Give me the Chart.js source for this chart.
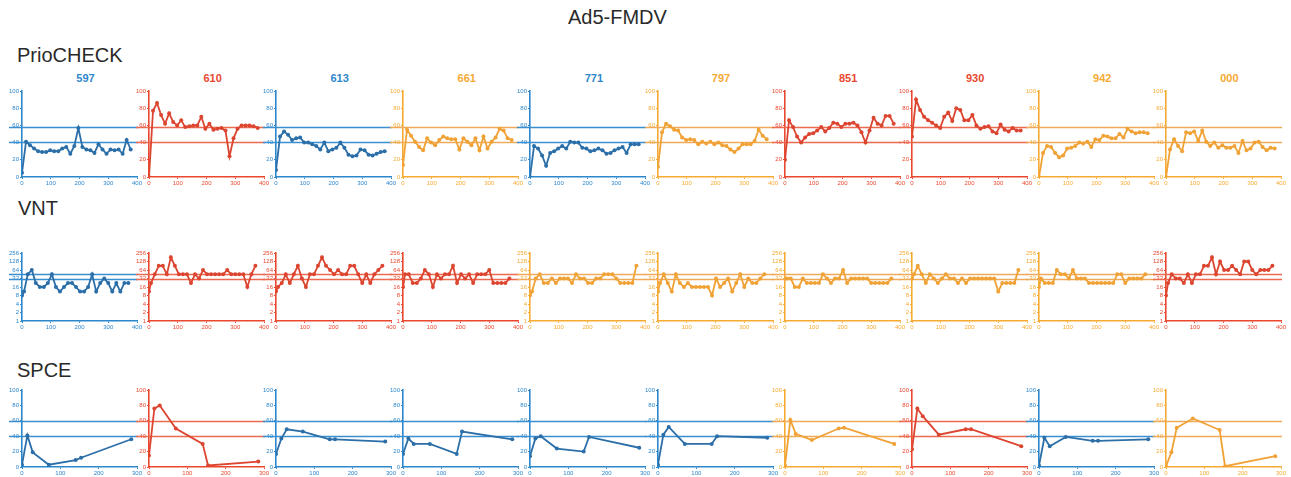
<!DOCTYPE html>
<html>
<head>
<meta charset="utf-8">
<script src="https://cdn.jsdelivr.net/npm/chart.js@4.4.1/dist/chart.umd.min.js"></script>
<style>
body{margin:0;width:1291px;height:477px;overflow:hidden;background:#fff;font-family:"Liberation Sans",Arial,sans-serif;position:relative}
canvas{position:absolute}
.lbl{position:absolute;color:#2a2a2a;font-size:20px;line-height:20px;white-space:nowrap}
.ttl{position:absolute;font-size:11px;line-height:11px;font-weight:bold;width:127px;text-align:center}
</style>
</head>
<body>
<div class="lbl" style="left:568px;top:7px">Ad5-FMDV</div>
<div class="lbl" style="left:17px;top:45px">PrioCHECK</div>
<div class="lbl" style="left:18px;top:198px">VNT</div>
<div class="lbl" style="left:17px;top:360px">SPCE</div>
<div id="wrap"></div>
<script>
const animals=["597","610","613","661","771","797","851","930","942","000"]

// days post vaccination
const prioDays=[0,14,28,42,56,70,84,98,112,126,140,154,168,182,196,210,224,238,252,266,280,294,308,322,336,350,364,378]
const vntDays=[0,7,20,34,48,62,76,90,104,118,132,146,160,174,188,202,216,230,244,258,272,286,300,314,328,342,356,370]
const spceDays=[0,14,28,70,140,154,285]

// PrioCHECK (% inhibition)
const prio597=[5,41,37,33,30,29,29,31,30,30,33,35,27,36,57,35,32,31,28,38,32,27,32,31,32,27,43,32]
const prio610=[0,77,86,72,62,74,64,60,66,58,59,60,60,70,56,62,55,56,57,54,24,45,56,60,60,60,59,57]
const prio613=[8,47,53,49,43,45,46,40,40,38,36,32,40,30,32,34,40,34,26,24,25,32,31,26,25,27,29,30]
const prio661=[14,55,48,41,35,31,45,40,37,43,47,45,44,44,32,45,41,37,45,31,47,33,41,46,56,54,45,43]
const prio771=[0,36,33,25,13,28,30,33,36,33,41,40,40,34,33,30,31,33,31,27,28,31,33,35,28,38,38,38]
const prio797=[12,52,62,59,55,54,46,43,44,43,38,41,39,41,38,40,37,36,32,29,33,38,38,38,42,55,48,44]
const prio851=[20,66,58,47,40,46,50,51,54,58,53,57,63,62,58,62,62,63,60,52,40,54,69,62,60,71,71,62]
const prio930=[47,90,78,70,66,63,60,57,70,75,65,80,78,66,66,72,60,56,58,59,53,51,61,55,53,57,54,54]
const prio942=[0,28,36,35,28,23,25,33,34,36,40,39,41,35,44,43,48,47,45,45,50,46,56,53,51,52,52,51]
const prio000=[0,32,44,36,30,52,51,53,42,54,41,36,40,34,37,34,34,36,28,42,31,33,40,41,35,31,34,33]

// VNT titres
const vnt597=[8,11,45,64,22,16,16,22,45,16,11,16,22,22,16,11,11,16,45,11,22,32,22,11,22,11,22,22]
const vnt610=[11,22,45,90,90,45,181,90,45,45,45,22,45,32,64,45,45,45,45,45,64,45,45,45,45,16,45,90]
const vnt613=[11,16,22,45,22,45,90,32,16,45,45,90,180,90,64,45,64,45,45,90,90,45,22,45,22,45,64,90]
const vnt661=[16,45,45,22,22,32,64,45,16,45,32,45,45,90,22,45,32,45,22,45,45,45,64,22,22,22,22,32]
const vnt771=[8,11,32,45,22,22,32,22,32,32,32,22,45,32,32,22,22,32,32,45,45,45,32,22,22,22,22,90]
const vnt797=[11,22,45,22,11,45,22,16,22,16,16,16,16,16,8,32,16,22,32,11,22,45,16,32,22,22,32,45]
const vnt851=[32,32,32,16,16,32,22,22,22,22,45,32,22,32,32,64,22,32,32,32,32,32,22,22,22,22,22,32]
const vnt930=[32,45,90,45,22,45,32,22,32,45,32,32,22,32,22,32,32,32,32,32,32,32,11,22,22,22,22,64]
const vnt942=[16,32,22,22,22,64,45,45,32,64,32,32,32,22,22,22,22,22,22,22,45,45,22,32,32,32,32,45]
const vnt000=[8,22,45,32,32,22,45,22,45,45,90,90,180,45,128,64,64,90,64,45,128,128,64,45,64,64,64,90]

// SPCE (% inhibition)
const spce597=[3,41,19,3,9,12,36]
const spce610=[15,76,80,50,30,2,7]
const spce613=[17,37,49,46,36,36,33]
const spce661=[17,37,30,30,17,46,36]
const spce771=[14,37,40,24,20,39,25]
const spce797=[3,42,52,30,30,40,38]
const spce851=[2,61,43,35,50,51,30]
const spce930=[23,76,66,42,49,49,27]
const spce942=[2,38,27,39,34,34,36]
const spce000=[1,19,51,63,48,1,14]

const prioCut=[41,58]
const vntCut=[32,45]
const spceCut=[40,60]
const vntTicks=[1,2,4,8,16,32,64,128,256]

const colors={
b:{axis:"#2d87cc",line:"#2b6ea8",cut:"#3a8fd0"},
r:{axis:"#e9482f",line:"#dc4530",cut:"#ec6a4f"},
o:{axis:"#f6aa32",line:"#f0a236",cut:"#eeaa5a"}
}

const rows=[
{top:84,plotH:86,days:prioDays,xmax:400,cut:prioCut,log:false,
 data:[prio597,prio610,prio613,prio661,prio771,prio797,prio851,prio930,prio942,prio000],
 col:["b","r","b","o","b","o","r","r","o","o"]},
{top:246,plotH:68,days:vntDays,xmax:400,cut:vntCut,log:true,
 data:[vnt597,vnt610,vnt613,vnt661,vnt771,vnt797,vnt851,vnt930,vnt942,vnt000],
 col:["b","r","r","r","o","o","o","o","o","r"]},
{top:383,plotH:77,days:spceDays,xmax:300,cut:spceCut,log:false,
 data:[spce597,spce610,spce613,spce661,spce771,spce797,spce851,spce930,spce942,spce000],
 col:["b","r","b","b","b","b","o","r","b","o"]}
]

Chart.defaults.font.family="'Liberation Sans', Arial, sans-serif"

const cutLines={
id:"cutLines",
beforeDatasetsDraw(chart,args,opts){
const {ctx,chartArea,scales}=chart
ctx.save()
ctx.strokeStyle=opts.color
ctx.lineWidth=1.3
opts.values.forEach(v=>{
const y=Math.round(scales.y.getPixelForValue(v))+0.5
ctx.beginPath()
ctx.moveTo(0,y)
ctx.lineTo(chartArea.right+1,y)
ctx.stroke()
})
ctx.restore()
}
}
Chart.register(cutLines)

const wrap=document.getElementById("wrap")

// panel titles above first row
animals.forEach((a,i)=>{
const t=document.createElement("div")
t.className="ttl"
t.style.left=(22+127.1*i)+"px"
t.style.top="73px"
t.style.color=colors[rows[0].col[i]].axis
t.textContent=a
wrap.appendChild(t)
})

rows.forEach(row=>{
row.data.forEach((vals,i)=>{
const c=colors[row.col[i]]
const cv=document.createElement("canvas")
const axisX=22+127.1*i
cv.width=141
cv.height=7+row.plotH+13
cv.style.left=(axisX-13)+"px"
cv.style.top=row.top+"px"
wrap.appendChild(cv)

const yScale=row.log?{
type:"logarithmic",min:1,max:256,
afterBuildTicks:s=>{s.ticks=vntTicks.map(v=>({value:v}))},
ticks:{color:c.axis,font:{size:6},padding:1,callback:v=>String(v),autoSkip:false}
}:{
type:"linear",min:0,max:100,
ticks:{stepSize:20,color:c.axis,font:{size:6},padding:1}
}
Object.assign(yScale,{
grid:{drawOnChartArea:false,tickLength:2,color:c.axis,lineWidth:1},
border:{color:c.axis,width:1.6},
afterFit:s=>{s.width=13}
})

new Chart(cv,{
type:"line",
data:{datasets:[{
data:row.days.slice(0,vals.length).map((d,k)=>({x:d,y:vals[k]})),
borderColor:c.line,
backgroundColor:c.line,
borderWidth:1.8,
pointRadius:2,
pointBorderWidth:0,
tension:0
}]},
options:{
responsive:false,animation:false,devicePixelRatio:1,
layout:{padding:{top:7,right:13,left:0,bottom:0}},
plugins:{legend:{display:false},tooltip:{enabled:false},
cutLines:{values:row.cut,color:c.cut}},
scales:{
x:{type:"linear",min:0,max:row.xmax,
ticks:{stepSize:100,color:c.axis,font:{size:6},padding:1,maxRotation:0},
grid:{drawOnChartArea:false,tickLength:2,color:c.axis,lineWidth:1},
border:{color:c.axis,width:1.6},
afterFit:s=>{s.height=13}},
y:yScale
}
}
})
})
})
</script>
</body>
</html>
